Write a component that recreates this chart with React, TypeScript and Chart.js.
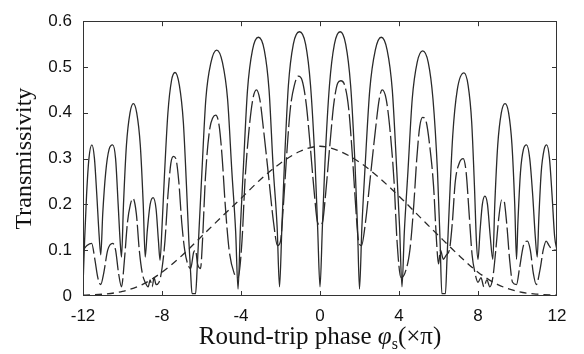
import { useEffect, useRef } from 'react';
import { Chart, registerables } from 'chart.js';
Chart.register(...registerables);

// Solid curve
const solidPhase = [-12,-11.92,-11.82,-11.7,-11.55,-11.42,-11.3,-11.18,-11.1,-11.0,-10.85,-10.68,-10.5,-10.35,-10.22,-10.12,-10.05,-9.95,-9.8,-9.62,-9.45,-9.28,-9.1,-8.95,-8.85,-8.75,-8.6,-8.45,-8.3,-8.18,-8.1,-8.0,-7.88,-7.7,-7.52,-7.34,-7.12,-6.92,-6.76,-6.64,-6.55,-6.48,-6.3,-6.22,-6.13,-5.98,-5.78,-5.52,-5.23,-4.94,-4.68,-4.46,-4.27,-4.15,-4.03,-3.88,-3.67,-3.42,-3.12,-2.82,-2.58,-2.37,-2.17,-2.05,-1.93,-1.8,-1.6,-1.35,-1.04,-0.73,-0.48,-0.25,-0.12,0.0,0.12,0.25,0.48,0.73,1.02,1.3,1.55,1.77,1.9,2.0,2.12,2.28,2.52,2.8,3.1,3.4,3.66,3.88,4.03,4.15,4.27,4.45,4.67,4.92,5.2,5.48,5.72,5.95,6.08,6.17,6.35,6.43,6.55,6.72,6.95,7.29,7.5,7.68,7.82,7.92,8.0,8.1,8.22,8.35,8.48,8.62,8.75,8.85,9.0,9.18,9.37,9.55,9.72,9.86,9.95,10.02,10.15,10.3,10.46,10.62,10.77,10.9,11.0,11.08,11.2,11.35,11.48,11.62,11.75,11.88,12.0];
const solidT = [0.02,0.12,0.22,0.30,0.33,0.30,0.22,0.13,0.09,0.18,0.27,0.32,0.33,0.30,0.20,0.12,0.085,0.20,0.33,0.40,0.42,0.40,0.33,0.20,0.085,0.14,0.20,0.215,0.19,0.12,0.078,0.15,0.26,0.40,0.47,0.488,0.46,0.38,0.24,0.12,0.05,0.005,0.005,0.06,0.14,0.27,0.43,0.51,0.537,0.51,0.43,0.27,0.14,0.015,0.15,0.28,0.45,0.537,0.565,0.537,0.45,0.28,0.15,0.02,0.15,0.29,0.46,0.55,0.577,0.55,0.46,0.29,0.15,0.02,0.15,0.29,0.46,0.55,0.577,0.55,0.46,0.29,0.15,0.015,0.15,0.28,0.45,0.537,0.565,0.537,0.45,0.28,0.15,0.02,0.14,0.27,0.43,0.51,0.535,0.51,0.43,0.27,0.12,0.005,0.005,0.08,0.20,0.35,0.45,0.487,0.46,0.38,0.24,0.12,0.08,0.14,0.20,0.218,0.20,0.13,0.08,0.20,0.33,0.40,0.42,0.40,0.33,0.20,0.08,0.16,0.27,0.32,0.33,0.30,0.22,0.13,0.085,0.17,0.27,0.32,0.33,0.30,0.22,0.13,0.10];

// Long-dashed curve
const dashPhase = [-12,-11.8,-11.56,-11.4,-11.25,-11.1,-10.95,-10.75,-10.5,-10.35,-10.2,-10.05,-9.9,-9.75,-9.6,-9.47,-9.3,-9.15,-9.0,-8.85,-8.7,-8.6,-8.5,-8.4,-8.3,-8.15,-8.0,-7.85,-7.7,-7.55,-7.42,-7.3,-7.15,-7.0,-6.85,-6.7,-6.55,-6.4,-6.3,-6.2,-6.05,-5.95,-5.8,-5.6,-5.42,-5.28,-5.1,-4.95,-4.8,-4.6,-4.35,-4.15,-3.95,-3.8,-3.6,-3.4,-3.22,-3.05,-2.85,-2.6,-2.35,-2.15,-2.0,-1.85,-1.7,-1.5,-1.3,-1.1,-0.9,-0.7,-0.5,-0.3,-0.12,0.0,0.12,0.3,0.5,0.7,0.9,1.05,1.25,1.45,1.65,1.8,1.95,2.1,2.3,2.55,2.8,3.0,3.15,3.35,3.55,3.75,3.9,4.1,4.3,4.55,4.75,4.9,5.05,5.2,5.38,5.55,5.75,5.9,6.0,6.1,6.25,6.4,6.55,6.7,6.85,7.05,7.25,7.4,7.55,7.7,7.85,8.0,8.15,8.3,8.45,8.6,8.75,8.9,9.05,9.2,9.3,9.45,9.6,9.75,9.95,10.1,10.3,10.5,10.65,10.8,10.95,11.15,11.3,11.45,11.6,11.8,12.0];
const dashT = [0.10,0.11,0.115,0.08,0.04,0.025,0.05,0.10,0.115,0.10,0.05,0.02,0.08,0.16,0.20,0.213,0.18,0.10,0.05,0.03,0.02,0.035,0.02,0.04,0.025,0.03,0.06,0.12,0.22,0.29,0.305,0.30,0.25,0.16,0.10,0.07,0.06,0.095,0.10,0.07,0.06,0.12,0.26,0.36,0.39,0.395,0.37,0.30,0.20,0.10,0.05,0.04,0.12,0.25,0.36,0.43,0.45,0.43,0.36,0.26,0.16,0.11,0.12,0.20,0.30,0.41,0.46,0.48,0.47,0.42,0.33,0.23,0.16,0.155,0.16,0.23,0.33,0.42,0.465,0.47,0.46,0.41,0.30,0.20,0.12,0.11,0.16,0.26,0.36,0.43,0.45,0.43,0.36,0.25,0.12,0.04,0.05,0.10,0.20,0.30,0.37,0.39,0.38,0.33,0.24,0.12,0.07,0.10,0.08,0.09,0.10,0.16,0.25,0.29,0.30,0.27,0.18,0.09,0.05,0.03,0.04,0.02,0.035,0.02,0.04,0.10,0.17,0.21,0.21,0.16,0.08,0.03,0.025,0.06,0.11,0.12,0.10,0.05,0.025,0.06,0.10,0.12,0.11,0.10,0.10];

// Short-dashed envelope
const envPhase = [-12,-11,-10,-9,-8,-7,-6,-5,-4,-3,-2,-1,0,1,2,3,4,5,6,7,8,9,10,11,12];
const envT = [0.002,0.004,0.01,0.025,0.052,0.088,0.13,0.172,0.213,0.255,0.29,0.316,0.327,0.316,0.292,0.258,0.218,0.175,0.132,0.09,0.052,0.025,0.01,0.004,0.002];

const xTicks = [-12, -8, -4, 0, 4, 8, 12];
const yTicks = [0, 0.1, 0.2, 0.3, 0.4, 0.5, 0.6];

const SANS = '"Liberation Sans", Arial, sans-serif';
const SERIF = '"Liberation Serif", "Times New Roman", serif';

export default function App() {
  const ref = useRef<HTMLCanvasElement>(null);
  useEffect(() => {
    document.body.style.margin = '0';
    const canvas = ref.current!;
    const pts = (xs: number[], ys: number[]) => xs.map((x, i) => ({ x, y: ys[i] }));

    const framePlugin = {
      id: 'frame',
      afterDatasetsDraw(chart: any) {
        const { ctx, chartArea: a, scales } = chart;
        ctx.save();
        ctx.strokeStyle = '#333';
        ctx.lineWidth = 1;
        ctx.strokeRect(Math.round(a.left) + 0.5, Math.round(a.top) + 0.5, Math.round(a.width) - 1, Math.round(a.height) - 1);
        ctx.beginPath();
        const tl = 5;
        xTicks.slice(1, -1).forEach((v) => {
          const px = Math.round(scales.x.getPixelForValue(v)) + 0.5;
          ctx.moveTo(px, a.bottom);
          ctx.lineTo(px, a.bottom - tl);
          ctx.moveTo(px, a.top);
          ctx.lineTo(px, a.top + tl);
        });
        yTicks.slice(1, -1).forEach((v) => {
          const py = Math.round(scales.y.getPixelForValue(v)) + 0.5;
          ctx.moveTo(a.left, py);
          ctx.lineTo(a.left + tl, py);
          ctx.moveTo(a.right, py);
          ctx.lineTo(a.right - tl, py);
        });
        ctx.stroke();
        ctx.restore();
      },
      afterDraw(chart: any) {
        const { ctx, chartArea: a } = chart;
        ctx.save();
        ctx.fillStyle = '#111';
        ctx.textBaseline = 'alphabetic';
        const parts = [
          { t: 'Round-trip phase ', f: `25px ${SERIF}`, dy: 0 },
          { t: '\u03C6', f: `italic 25px ${SERIF}`, dy: 0 },
          { t: 's', f: `16px ${SERIF}`, dy: 5 },
          { t: '(\u00D7\u03C0)', f: `25px ${SERIF}`, dy: 0 },
        ];
        let total = 0;
        const widths = parts.map((p) => {
          ctx.font = p.f;
          const w = ctx.measureText(p.t).width;
          total += w;
          return w;
        });
        let x = (a.left + a.right) / 2 - total / 2;
        const base = 344;
        parts.forEach((p, i) => {
          ctx.font = p.f;
          ctx.fillText(p.t, x, base + p.dy);
          x += widths[i];
        });
        ctx.restore();
      },
    };

    const chart = new Chart(canvas, {
      type: 'line',
      data: {
        datasets: [
          {
            data: pts(solidPhase, solidT),
            borderColor: '#2a2a2a',
            borderWidth: 1.3,
            pointRadius: 0,
            cubicInterpolationMode: 'monotone',
            fill: false,
          },
          {
            data: pts(dashPhase, dashT),
            borderColor: '#2a2a2a',
            borderWidth: 1.3,
            borderDash: [22, 4],
            pointRadius: 0,
            cubicInterpolationMode: 'monotone',
            fill: false,
          },
          {
            data: pts(envPhase, envT),
            borderColor: '#2a2a2a',
            borderWidth: 1.3,
            borderDash: [7, 5],
            pointRadius: 0,
            cubicInterpolationMode: 'monotone',
            fill: false,
          },
        ],
      },
      options: {
        animation: false,
        responsive: false,
        events: [],
        layout: { padding: { left: 0, right: 27, top: 18, bottom: 0 } },
        plugins: { legend: { display: false }, tooltip: { enabled: false } },
        scales: {
          x: {
            type: 'linear',
            min: -12,
            max: 12,
            afterBuildTicks: (s: any) => { s.ticks = xTicks.map((v) => ({ value: v })); },
            afterFit: (s: any) => { s.height = 58; },
            grid: { display: false, drawTicks: false },
            border: { display: false },
            ticks: {
              padding: 10,
              color: '#111',
              font: { family: SANS, size: 17 },
              maxRotation: 0,
              autoSkip: false,
              callback: (v: any) => String(v),
            },
          },
          y: {
            type: 'linear',
            min: 0,
            max: 0.6,
            afterBuildTicks: (s: any) => { s.ticks = yTicks.map((v) => ({ value: v })); },
            afterFit: (s: any) => { s.width = 83; },
            grid: { display: false, drawTicks: false },
            border: { display: false },
            ticks: {
              padding: 11,
              color: '#111',
              font: { family: SANS, size: 17 },
              autoSkip: false,
              callback: (v: any) => (v === 0 ? '0' : Number(v).toFixed(1)),
            },
            title: {
              display: true,
              text: 'Transmissivity',
              color: '#111',
              font: { family: SERIF, size: 24 },
              padding: { top: 10, bottom: 0 },
            },
          },
        },
      },
      plugins: [framePlugin],
    } as any);
    return () => chart.destroy();
  }, []);
  return (
    <div style={{ width: 584, height: 354 }}>
      <canvas ref={ref} width={584} height={354} />
    </div>
  );
}
